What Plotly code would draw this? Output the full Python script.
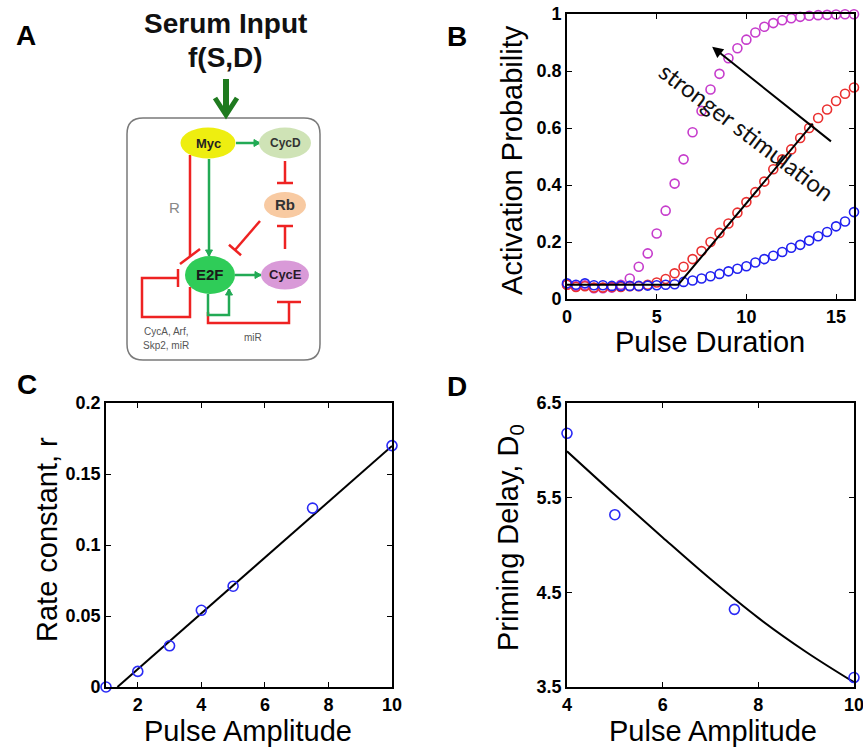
import plotly.graph_objects as go

W, H = 863, 749

# ---------------- Data ----------------
# Panel B: activation probability vs pulse duration
pulse_duration = [0, 0.5, 1, 1.5, 2, 2.5, 3, 3.5, 4, 4.5, 5, 5.5, 6, 6.5, 7, 7.5, 8,
                  8.5, 9, 9.5, 10, 10.5, 11, 11.5, 12, 12.5, 13, 13.5, 14, 14.5, 15, 15.5, 16]
prob_strong = [0.05, 0.045, 0.048, 0.038, 0.038, 0.04, 0.05, 0.072, 0.113, 0.16, 0.23,
               0.31, 0.405, 0.49, 0.585, 0.66, 0.735, 0.79, 0.845, 0.88, 0.91, 0.935,
               0.955, 0.968, 0.978, 0.985, 0.99, 0.994, 0.996, 0.997, 0.998, 0.999, 0.999]
prob_medium = [0.05, 0.042, 0.045, 0.04, 0.04, 0.042, 0.042, 0.045, 0.045, 0.05, 0.058,
               0.07, 0.09, 0.113, 0.14, 0.168, 0.2, 0.232, 0.265, 0.303, 0.34, 0.375,
               0.412, 0.455, 0.49, 0.525, 0.565, 0.6, 0.635, 0.665, 0.695, 0.72, 0.742]
prob_weak = [0.055, 0.05, 0.055, 0.048, 0.048, 0.046, 0.046, 0.046, 0.046, 0.047, 0.048,
             0.05, 0.052, 0.06, 0.065, 0.072, 0.08, 0.088, 0.097, 0.106, 0.115, 0.128,
             0.14, 0.152, 0.165, 0.18, 0.19, 0.205, 0.22, 0.235, 0.255, 0.272, 0.305]
fit_b_x = [0, 6.2, 13.7]
fit_b_y = [0.05, 0.05, 0.615]

# Panel C: rate constant vs pulse amplitude
amp_c = [1, 2, 3, 4, 5, 7.5, 10]
rate_c = [0.0, 0.011, 0.029, 0.054, 0.071, 0.126, 0.17]
fit_c_x = [1.36, 10]
fit_c_y = [0.0, 0.1697]

# Panel D: priming delay vs pulse amplitude
amp_d = [4, 5, 7.5, 10]
delay_d = [6.18, 5.32, 4.32, 3.6]
fit_d_x = [4, 5, 6, 7, 8, 9, 10]
fit_d_y = [5.99, 5.53, 5.08, 4.64, 4.23, 3.87, 3.55]

# tick labels
ticks_b_x = [0, 5, 10, 15]
ticks_b_y = [0, 0.2, 0.4, 0.6, 0.8, 1]
ticks_c_x = [2, 4, 6, 8, 10]
ticks_c_y = [0, 0.05, 0.1, 0.15, 0.2]
ticks_d_x = [4, 6, 8, 10]
ticks_d_y = [3.5, 4.5, 5.5, 6.5]

# ---------------- Helpers ----------------
def px(x):
    return x / W

def py(y):
    return 1 - y / H

FONT = "Liberation Sans, Arial, sans-serif"

fig = go.Figure()

def circles(x, y, color, xa, ya, size):
    fig.add_trace(go.Scatter(x=x, y=y, mode="markers", xaxis=xa, yaxis=ya,
                             cliponaxis=False,
                             marker=dict(symbol="circle-open", size=size,
                                         line=dict(color=color, width=1.6), color=color)))

def fitline(x, y, xa, ya, shape="linear"):
    fig.add_trace(go.Scatter(x=x, y=y, mode="lines", xaxis=xa, yaxis=ya,
                             line=dict(color="black", width=2, shape=shape, smoothing=1.0)))

circles(pulse_duration, prob_strong, "#c63ccc", "x", "y", 9)
circles(pulse_duration, prob_medium, "#ea3030", "x", "y", 9)
circles(pulse_duration, prob_weak, "#2020f0", "x", "y", 9)
fitline(fit_b_x, fit_b_y, "x", "y")

fitline(fit_c_x, fit_c_y, "x2", "y2")
circles(amp_c, rate_c, "#2a2af5", "x2", "y2", 10)

fitline(fit_d_x, fit_d_y, "x3", "y3", "spline")
circles(amp_d, delay_d, "#2a2af5", "x3", "y3", 10)

axis_common = dict(showline=True, linecolor="black", linewidth=1.8, mirror="ticks",
                   ticks="inside", ticklen=5, tickwidth=1.2, tickcolor="black",
                   showgrid=False, zeroline=False, fixedrange=True, automargin=False,
                   ticklabeloverflow="allow",
                   tickfont=dict(family=FONT, size=18, color="black", weight="bold"))

fig.update_layout(
    template="none",
    width=W, height=H, autosize=False,
    margin=dict(l=0, r=0, t=0, b=0, pad=0, autoexpand=False),
    paper_bgcolor="white", plot_bgcolor="white", showlegend=False,
    xaxis=dict(domain=[px(567), px(854)], range=[0, 16], tickvals=ticks_b_x, anchor="y", **axis_common),
    yaxis=dict(domain=[py(299), py(14)], range=[0, 1], tickvals=ticks_b_y, anchor="x", **axis_common),
    xaxis2=dict(domain=[px(106), px(392)], range=[1, 10], tickvals=ticks_c_x, anchor="y2", **axis_common),
    yaxis2=dict(domain=[py(687), py(403)], range=[0, 0.2], tickvals=ticks_c_y, anchor="x2", **axis_common),
    xaxis3=dict(domain=[px(567), px(854)], range=[4, 10], tickvals=ticks_d_x, anchor="y3", **axis_common),
    yaxis3=dict(domain=[py(687), py(403)], range=[3.5, 6.5], tickvals=ticks_d_y, anchor="x3", **axis_common),
)

ann = []
def text(x, y, t, size, bold=False, color="black", angle=0, family=FONT):
    f = dict(family=family, size=size, color=color)
    if bold:
        f["weight"] = "bold"
    ann.append(dict(x=px(x), y=py(y), xref="paper", yref="paper", text=t, showarrow=False,
                    font=f, textangle=angle, xanchor="center", yanchor="middle"))

# Panel letters
text(26, 35, "A", 28, bold=True)
text(457, 36, "B", 28, bold=True)
text(27, 385, "C", 28, bold=True)
text(457, 386, "D", 28, bold=True)

# Axis titles
text(512, 160, "Activation Probability", 29, angle=-90)
text(710, 342, "Pulse Duration", 29)
text(47, 540, "Rate constant, r", 29, angle=-90)
text(248, 731, "Pulse Amplitude", 29)
text(510, 538, "Priming Delay, D<sub>0</sub>", 29, angle=-90)
text(713, 731, "Pulse Amplitude", 29)

# Panel B annotation: arrow and text
ann.append(dict(x=8.09, y=0.885, ax=14.8, ay=0.549, xref="x", yref="y", axref="x", ayref="y",
                text="", showarrow=True, arrowhead=2, arrowsize=1.1, arrowwidth=2,
                arrowcolor="black"))
ann.append(dict(x=10.03, y=0.586, xref="x", yref="y", text="stronger stimulation",
                showarrow=False, textangle=37,
                font=dict(family="Lato, Open Sans, sans-serif", size=24, color="#111")))

# ---------------- Panel A diagram ----------------
shapes = []
GREEN = "#22aa55"
RED = "#ee2222"

def seg(x0, y0, x1, y1, color, width):
    shapes.append(dict(type="line", xref="paper", yref="paper", x0=px(x0), y0=py(y0),
                       x1=px(x1), y1=py(y1), line=dict(color=color, width=width)))

def poly(pts, color, width, fill=None):
    d = "M " + " L ".join(f"{px(x):.5f},{py(y):.5f}" for x, y in pts)
    s = dict(type="path", xref="paper", yref="paper", path=d,
             line=dict(color=color, width=width))
    if fill:
        s["path"] += " Z"
        s["fillcolor"] = fill
    shapes.append(s)

def green_arrow(pts, length=6, half=3.5):
    poly(pts, GREEN, 2.5)
    (x0, y0), (x1, y1) = pts[-2], pts[-1]
    dx, dy = x1 - x0, y1 - y0
    n = (dx * dx + dy * dy) ** 0.5
    ux, uy = dx / n, dy / n
    bx, by = x1 - ux * length, y1 - uy * length
    poly([(x1, y1), (bx - uy * half, by + ux * half), (bx + uy * half, by - ux * half)],
         GREEN, 1, fill=GREEN)

def red_inhibit(pts, half=8):
    poly(pts, RED, 2.5)
    (x0, y0), (x1, y1) = pts[-2], pts[-1]
    dx, dy = x1 - x0, y1 - y0
    n = (dx * dx + dy * dy) ** 0.5
    ux, uy = dx / n, dy / n
    seg(x1 - uy * half, y1 + ux * half, x1 + uy * half, y1 - ux * half, RED, 2.5)

def ellipse(cx, cy, w, h, color):
    shapes.append(dict(type="circle", xref="paper", yref="paper",
                       x0=px(cx - w / 2), x1=px(cx + w / 2), y0=py(cy + h / 2), y1=py(cy - h / 2),
                       fillcolor=color, line=dict(width=0)))

# rounded box
x0, y0, x1, y1, r = 127, 118, 320, 360, 16
box = (f"M {px(x0 + r)},{py(y0)} L {px(x1 - r)},{py(y0)} Q {px(x1)},{py(y0)} {px(x1)},{py(y0 + r)} "
       f"L {px(x1)},{py(y1 - r)} Q {px(x1)},{py(y1)} {px(x1 - r)},{py(y1)} "
       f"L {px(x0 + r)},{py(y1)} Q {px(x0)},{py(y1)} {px(x0)},{py(y1 - r)} "
       f"L {px(x0)},{py(y0 + r)} Q {px(x0)},{py(y0)} {px(x0 + r)},{py(y0)} Z")
shapes.append(dict(type="path", xref="paper", yref="paper", path=box,
                   line=dict(color="#7a7a7a", width=1.5)))

# serum input arrow
seg(226, 79, 226, 114, "#1f7a1f", 6)
poly([(215, 98), (226, 115), (237, 98)], "#1f7a1f", 5)

# edges
green_arrow([(236, 143), (260, 143)])
green_arrow([(209, 159), (209, 256)])
poly([(190, 155), (190, 256)], RED, 2.5)
seg(180, 264, 200, 249, RED, 2.5)
red_inhibit([(285, 161), (285, 183)])
red_inhibit([(285, 249), (285, 226)])
red_inhibit([(260, 221), (235, 250)])
green_arrow([(235, 275), (261, 275)])
red_inhibit([(190, 287), (190, 317), (142, 317), (142, 278), (178, 278)], half=9)
red_inhibit([(208, 312), (208, 323), (289, 323), (289, 302)], half=12)
green_arrow([(208, 294), (208, 315), (229, 315), (229, 289)])

# nodes
ellipse(208, 143, 55, 31, "#eeee10")
ellipse(285, 143, 52, 31, "#cfe3b6")
ellipse(285, 205, 42, 26, "#f8caa2")
ellipse(210, 275, 50, 38, "#2fcc58")
ellipse(285, 275, 48, 29, "#d99ad8")

text(208, 143, "Myc", 13, bold=True, color="#222")
text(285, 143, "CycD", 12, bold=True, color="#333")
text(285, 205, "Rb", 15, bold=True, color="#333")
text(210, 275, "E2F", 15, bold=True, color="#1a1a1a")
text(285, 275, "CycE", 13, bold=True, color="#2a1a2a")
text(174, 207, "R", 15, color="#888")
text(166, 331, "CycA, Arf,", 10, color="#555")
text(166, 345, "Skp2, miR", 10, color="#555")
text(253, 337, "miR", 10, color="#555")

text(226, 23, "Serum Input", 28, bold=True, color="#111")
text(226, 57, "f(S,D)", 28, bold=True, color="#111")

fig.update_layout(annotations=ann, shapes=shapes)
fig.write_html("out.html")
